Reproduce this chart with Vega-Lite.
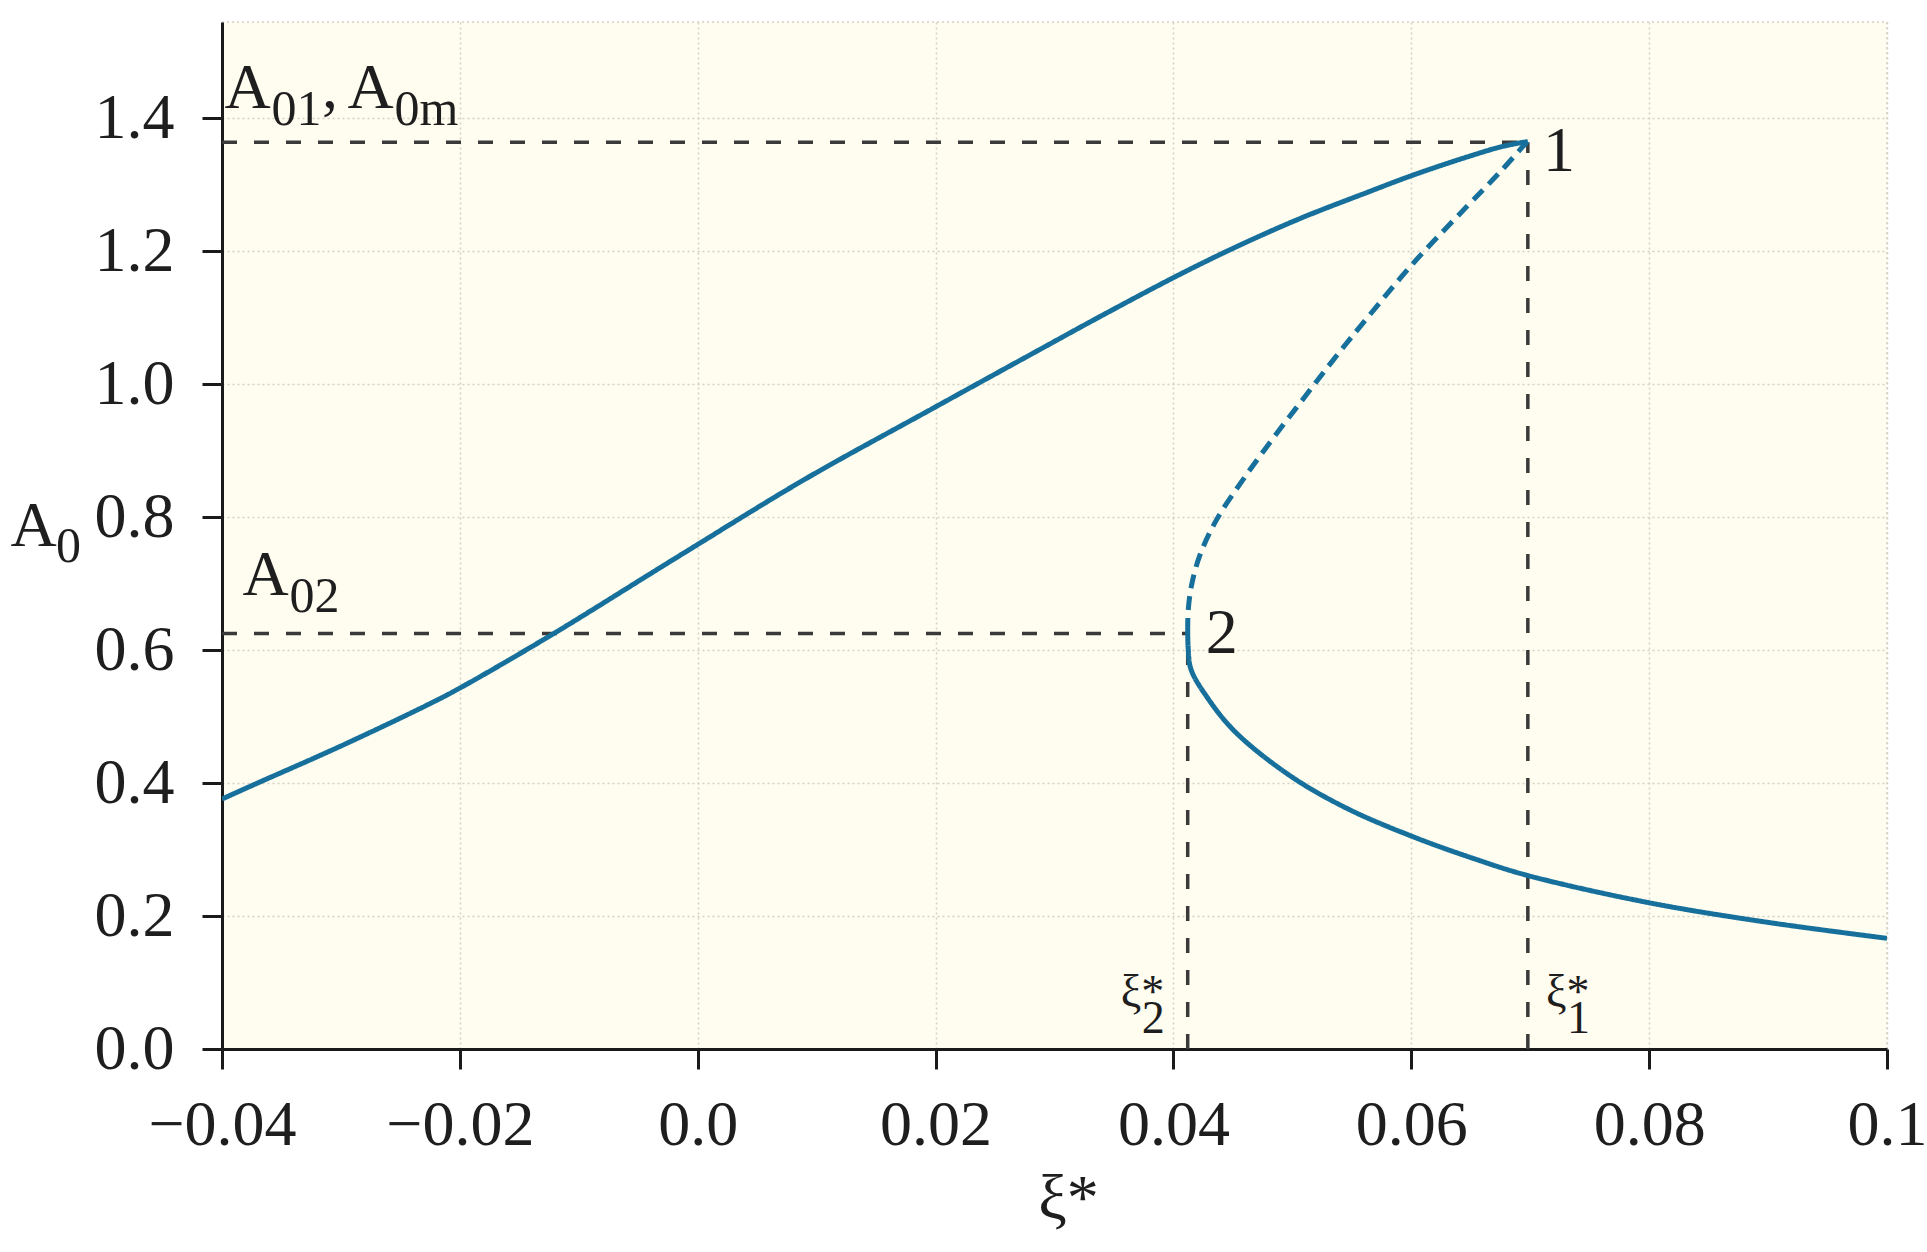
{
  "$schema": "https://vega.github.io/schema/vega-lite/v6.json",
  "width": 1665,
  "height": 1027,
  "autosize": {"type": "none"},
  "padding": {"left": 222, "top": 22, "right": 40, "bottom": 203},
  "background": "white",
  "config": {
    "view": {"fill": "#FEFDF0", "stroke": "#d4d1c2", "strokeDash": [2, 3], "strokeWidth": 1.5},
    "font": "Liberation Serif",
    "text": {"font": "Liberation Serif"}
  },
  "datasets": {
    "curve": [
      {"i": 1, "seg": "upper", "xi": -0.04, "a": 0.376},
      {"i": 2, "seg": "upper", "xi": -0.0374, "a": 0.397},
      {"i": 3, "seg": "upper", "xi": -0.0301, "a": 0.455},
      {"i": 4, "seg": "upper", "xi": -0.0228, "a": 0.517},
      {"i": 5, "seg": "upper", "xi": -0.02, "a": 0.543},
      {"i": 6, "seg": "upper", "xi": -0.0122, "a": 0.624},
      {"i": 7, "seg": "upper", "xi": -0.0038, "a": 0.717},
      {"i": 8, "seg": "upper", "xi": 0.0, "a": 0.759},
      {"i": 9, "seg": "upper", "xi": 0.009, "a": 0.857},
      {"i": 10, "seg": "upper", "xi": 0.02, "a": 0.966},
      {"i": 11, "seg": "upper", "xi": 0.0297, "a": 1.0615},
      {"i": 12, "seg": "upper", "xi": 0.0338, "a": 1.1016},
      {"i": 13, "seg": "upper", "xi": 0.0401, "a": 1.1613},
      {"i": 14, "seg": "upper", "xi": 0.045, "a": 1.2044},
      {"i": 15, "seg": "upper", "xi": 0.0506, "a": 1.249},
      {"i": 16, "seg": "upper", "xi": 0.0562, "a": 1.288},
      {"i": 17, "seg": "upper", "xi": 0.0602, "a": 1.315},
      {"i": 18, "seg": "upper", "xi": 0.0647, "a": 1.342},
      {"i": 19, "seg": "upper", "xi": 0.0675, "a": 1.357},
      {"i": 20, "seg": "upper", "xi": 0.0694, "a": 1.364},
      {"i": 21, "seg": "upper", "xi": 0.0698, "a": 1.365},
      {"i": 22, "seg": "middle", "xi": 0.0698, "a": 1.365},
      {"i": 23, "seg": "middle", "xi": 0.06956, "a": 1.361},
      {"i": 24, "seg": "middle", "xi": 0.06745, "a": 1.319},
      {"i": 25, "seg": "middle", "xi": 0.06465, "a": 1.267},
      {"i": 26, "seg": "middle", "xi": 0.06016, "a": 1.182},
      {"i": 27, "seg": "middle", "xi": 0.05624, "a": 1.0986},
      {"i": 28, "seg": "middle", "xi": 0.05343, "a": 1.0364},
      {"i": 29, "seg": "middle", "xi": 0.05091, "a": 0.978},
      {"i": 30, "seg": "middle", "xi": 0.04839, "a": 0.919},
      {"i": 31, "seg": "middle", "xi": 0.04587, "a": 0.857},
      {"i": 32, "seg": "middle", "xi": 0.04362, "a": 0.796},
      {"i": 33, "seg": "middle", "xi": 0.04222, "a": 0.7425},
      {"i": 34, "seg": "middle", "xi": 0.04152, "a": 0.6974},
      {"i": 35, "seg": "middle", "xi": 0.04124, "a": 0.6594},
      {"i": 36, "seg": "middle", "xi": 0.0412, "a": 0.635},
      {"i": 37, "seg": "lower", "xi": 0.0412, "a": 0.635},
      {"i": 38, "seg": "lower", "xi": 0.04124, "a": 0.603},
      {"i": 39, "seg": "lower", "xi": 0.04148, "a": 0.571},
      {"i": 40, "seg": "lower", "xi": 0.0428, "a": 0.53},
      {"i": 41, "seg": "lower", "xi": 0.0452, "a": 0.477},
      {"i": 42, "seg": "lower", "xi": 0.0499, "a": 0.41},
      {"i": 43, "seg": "lower", "xi": 0.0547, "a": 0.361},
      {"i": 44, "seg": "lower", "xi": 0.0602, "a": 0.319},
      {"i": 45, "seg": "lower", "xi": 0.065, "a": 0.288},
      {"i": 46, "seg": "lower", "xi": 0.0698, "a": 0.261},
      {"i": 47, "seg": "lower", "xi": 0.08, "a": 0.22},
      {"i": 48, "seg": "lower", "xi": 0.0898, "a": 0.191},
      {"i": 49, "seg": "lower", "xi": 0.1, "a": 0.1665}
    ],
    "refs": [
      {"x": -0.04, "x2": 0.0698, "y": 1.364, "y2": 1.364},
      {"x": -0.04, "x2": 0.0412, "y": 0.625, "y2": 0.625},
      {"x": 0.0698, "x2": 0.0698, "y": 0, "y2": 1.364},
      {"x": 0.0412, "x2": 0.0412, "y": 0, "y2": 0.635}
    ],
    "labels": [
      {"x": -0.0398, "y": 1.4155, "main": "A", "sub": "01"},
      {"x": -0.0316, "y": 1.4155, "main": ","},
      {"x": -0.02944, "y": 1.4155, "main": "A", "sub": "0m"},
      {"x": -0.03828, "y": 0.6829, "main": "A", "sub": "02"},
      {"x": 0.07107, "y": 1.3207, "main": "1"},
      {"x": 0.04272, "y": 0.5957, "main": "2"},
      {"x": -0.0579, "y": 0.758, "main": "", "sub": "0"}
    ],
    "xis": [
      {"x": 0.03557, "y": 0.0632, "sub": "2"},
      {"x": 0.07132, "y": 0.0632, "sub": "1"}
    ]
  },
  "layer": [
    {
      "data": {"name": "refs"},
      "mark": {"type": "rule", "color": "#3a3a3a", "strokeWidth": 3.5, "strokeDash": [15, 17]},
      "encoding": {
        "x": {
          "field": "x", "type": "quantitative", "title": "ξ*",
          "scale": {"domain": [-0.04, 0.1], "nice": false, "zero": false},
          "axis": {
            "values": [-0.04, -0.02, 0, 0.02, 0.04, 0.06, 0.08, 0.1],
            "labelExpr": "datum.value == 0 ? '0.0' : format(datum.value, '~g')",
            "labelFont": "Liberation Serif", "labelFontSize": 64, "labelColor": "#1e1e1e",
            "labelBaseline": "alphabetic", "labelPadding": 75, "labelFlush": false, "labelOverlap": false,
            "domainColor": "#1a1a1a", "domainWidth": 3,
            "tickColor": "#1a1a1a", "tickWidth": 3, "tickSize": 20,
            "grid": true, "gridColor": "#d4d1c2", "gridDash": [2, 3], "gridWidth": 1.5,
            "titleFont": "Liberation Serif", "titleFontSize": 64, "titleFontWeight": "normal", "titleColor": "#1e1e1e",
            "titleX": 846, "titleY": 169, "titleBaseline": "alphabetic", "titleAlign": "center"
          }
        },
        "x2": {"field": "x2"},
        "y": {
          "field": "y", "type": "quantitative", "title": "A",
          "scale": {"domain": [0, 1.545], "nice": false},
          "axis": {
            "values": [0, 0.2, 0.4, 0.6, 0.8, 1.0, 1.2, 1.4],
            "format": ".1f",
            "labelFont": "Liberation Serif", "labelFontSize": 64, "labelColor": "#1e1e1e",
            "labelPadding": 28, "labelFlush": false, "labelOverlap": false,
            "domainColor": "#1a1a1a", "domainWidth": 3,
            "tickColor": "#1a1a1a", "tickWidth": 3, "tickSize": 20,
            "grid": true, "gridColor": "#d4d1c2", "gridDash": [2, 3], "gridWidth": 1.5,
            "titleFont": "Liberation Serif", "titleFontSize": 64, "titleFontWeight": "normal", "titleColor": "#1e1e1e",
            "titleAngle": 0, "titleAlign": "left", "titleBaseline": "alphabetic",
            "titleX": -212, "titleY": 523
          }
        },
        "y2": {"field": "y2"}
      }
    },
    {
      "data": {"name": "curve"},
      "mark": {"type": "line", "color": "#17709c", "strokeWidth": 5, "strokeCap": "butt", "interpolate": "catmull-rom", "clip": true},
      "encoding": {
        "x": {"field": "xi", "type": "quantitative", "title": "ξ*"},
        "y": {"field": "a", "type": "quantitative", "title": "A"},
        "strokeDash": {
          "field": "seg", "type": "nominal",
          "scale": {"domain": ["upper", "middle", "lower"], "range": [[1, 0], [14, 8], [1, 0]]},
          "legend": null
        },
        "order": {"field": "i", "type": "quantitative"}
      }
    },
    {
      "data": {"name": "labels"},
      "mark": {"type": "text", "align": "left", "baseline": "alphabetic", "fontSize": 64, "color": "#1e1e1e", "font": "Liberation Serif"},
      "encoding": {
        "x": {"field": "x", "type": "quantitative", "title": "ξ*"},
        "y": {"field": "y", "type": "quantitative", "title": "A"},
        "text": {"field": "main"}
      }
    },
    {
      "data": {"name": "labels"},
      "transform": [{"filter": "datum.sub"}],
      "mark": {"type": "text", "align": "left", "baseline": "alphabetic", "fontSize": 50, "dx": 47, "dy": 17, "color": "#1e1e1e", "font": "Liberation Serif"},
      "encoding": {
        "x": {"field": "x", "type": "quantitative", "title": "ξ*"},
        "y": {"field": "y", "type": "quantitative", "title": "A"},
        "text": {"field": "sub"}
      }
    },
    {
      "data": {"name": "xis"},
      "mark": {"type": "text", "align": "left", "baseline": "alphabetic", "fontSize": 46, "text": "ξ*", "color": "#1e1e1e", "font": "Liberation Serif"},
      "encoding": {
        "x": {"field": "x", "type": "quantitative", "title": "ξ*"},
        "y": {"field": "y", "type": "quantitative", "title": "A"}
      }
    },
    {
      "data": {"name": "xis"},
      "mark": {"type": "text", "align": "left", "baseline": "alphabetic", "fontSize": 46, "dx": 21, "dy": 26, "color": "#1e1e1e", "font": "Liberation Serif"},
      "encoding": {
        "x": {"field": "x", "type": "quantitative", "title": "ξ*"},
        "y": {"field": "y", "type": "quantitative", "title": "A"},
        "text": {"field": "sub"}
      }
    }
  ]
}
